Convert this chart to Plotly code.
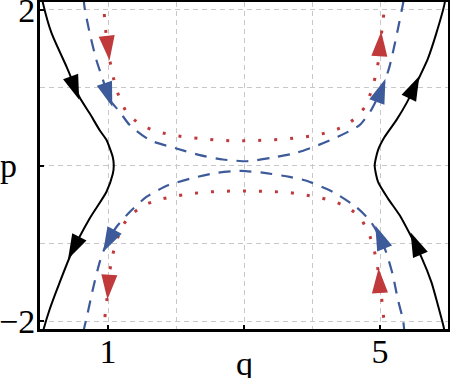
import plotly.graph_objects as go

# ---- axes / ticks ----
q_range = [0, 6]
p_range = [-2.1, 2.1]
x_tickvals = [1, 3, 5]
x_ticktext = ["1", "", "5"]
x_minor_grid = [2, 4]
y_tickvals = [-2, 0, 2]
y_ticktext = ["\u22122", "", "2"]
y_minor_grid = [-1, 1]
x_label = "q"
y_label = "p"

# ---- curves (q, p) ----
black_left_q = [0.03, 0.044, 0.17, 0.39, 0.58, 0.73, 0.88, 0.976, 1.07, 1.085, 1.07, 0.976, 0.73, 0.46, 0.29, 0.145, 0.054, 0.04]
black_left_p = [2.15, 2.085, 1.70, 1.27, 0.88, 0.67, 0.45, 0.33, 0.11, 0.0, -0.11, -0.34, -0.68, -1.13, -1.50, -1.84, -2.10, -2.15]

black_right_q = [5.96, 5.951, 5.829, 5.706, 5.535, 5.388, 5.241, 5.069, 4.971, 4.922, 4.971, 5.118, 5.29, 5.462, 5.609, 5.756, 5.853, 5.937, 5.95]
black_right_p = [2.15, 2.085, 1.70, 1.377, 1.055, 0.798, 0.583, 0.368, 0.197, 0.0, -0.211, -0.425, -0.64, -0.919, -1.176, -1.498, -1.798, -2.077, -2.15]

blue_top_q = [0.64, 0.657, 0.731, 0.829, 0.926, 1.025, 1.172, 1.319, 1.613, 2.006, 2.35, 2.69, 3.06, 3.40, 3.77, 4.09, 4.38, 4.70, 4.87, 5.04, 5.14, 5.24, 5.34, 5.35]
blue_top_p = [2.15, 2.02, 1.70, 1.355, 1.10, 0.844, 0.69, 0.519, 0.326, 0.219, 0.133, 0.077, 0.055, 0.098, 0.162, 0.261, 0.368, 0.519, 0.712, 1.01, 1.27, 1.655, 2.085, 2.15]

blue_bot_q = [0.64, 0.647, 0.682, 0.779, 0.878, 0.976, 1.124, 1.319, 1.565, 1.882, 2.25, 2.594, 2.96, 3.30, 3.67, 3.92, 4.31, 4.65, 4.85, 4.97, 5.09, 5.19, 5.26, 5.34, 5.36]
blue_bot_p = [-2.15, -2.10, -1.97, -1.583, -1.241, -1.004, -0.790, -0.597, -0.404, -0.254, -0.160, -0.095, -0.069, -0.095, -0.147, -0.195, -0.34, -0.533, -0.704, -0.875, -1.112, -1.412, -1.712, -1.99, -2.15]

red_top_q = [0.92, 0.937, 0.951, 0.976, 1.010, 1.05, 1.099, 1.172, 1.279, 1.456, 1.662, 1.897, 2.128, 2.35, 2.594, 2.829, 3.07, 3.30, 3.535, 3.77, 4.0, 4.235, 4.456, 4.643, 4.785, 4.874, 4.937, 4.981, 5.01, 5.035, 5.059, 5.07]
red_top_p = [2.15, 2.08, 1.87, 1.655, 1.42, 1.248, 1.055, 0.862, 0.677, 0.54, 0.454, 0.399, 0.368, 0.347, 0.326, 0.317, 0.317, 0.326, 0.335, 0.355, 0.381, 0.425, 0.497, 0.613, 0.763, 0.96, 1.162, 1.364, 1.613, 1.784, 1.977, 2.15]

red_bot_q = [0.94, 0.951, 0.976, 1.0, 1.025, 1.065, 1.124, 1.212, 1.359, 1.554, 1.771, 2.006, 2.235, 2.47, 2.70, 2.937, 3.172, 3.41, 3.647, 3.868, 4.113, 4.344, 4.554, 4.716, 4.834, 4.907, 4.956, 4.985, 5.02, 5.044, 5.069, 5.075]
red_bot_p = [-2.15, -1.98, -1.776, -1.605, -1.369, -1.163, -0.974, -0.777, -0.618, -0.502, -0.434, -0.391, -0.360, -0.340, -0.331, -0.327, -0.331, -0.335, -0.347, -0.373, -0.412, -0.468, -0.553, -0.682, -0.867, -1.06, -1.261, -1.434, -1.669, -1.871, -2.077, -2.15]

# ---- arrowheads: (tail, tip) pairs along each curve ----
black_arrow_q = [0.46, 0.576, 0.56, 0.413, 5.39, 5.579, 5.61, 5.449]
black_arrow_p = [1.12, 0.845, -0.95, -1.20, 0.80, 1.151, -1.18, -0.857]
blue_arrow_q = [0.93, 1.063, 1.09, 0.928, 4.93, 5.08, 5.07, 4.931]
blue_arrow_p = [1.10, 0.755, -0.84, -1.11, 0.76, 1.114, -1.07, -0.772]
red_arrow_q = [0.976, 1.022, 1.02, 0.992, 4.99, 5.018, 5.0, 4.979]
red_arrow_p = [1.70, 1.35, -1.40, -1.72, 1.40, 1.72, -1.65, -1.32]

BLACK = "#000000"
BLUE = "#3D5A9A"
RED = "#C0393B"
FONT = "Liberation Serif"

fig = go.Figure()

def curve(q, p, color, width, dash):
    fig.add_trace(go.Scatter(x=q, y=p, mode="lines",
                             line=dict(color=color, width=width, dash=dash, shape="spline", smoothing=0.6),
                             hoverinfo="skip", showlegend=False))

curve(black_left_q, black_left_p, BLACK, 2, "solid")
curve(black_right_q, black_right_p, BLACK, 2, "solid")
curve(blue_top_q, blue_top_p, BLUE, 2.2, "12px,9px")
curve(blue_bot_q, blue_bot_p, BLUE, 2.2, "12px,9px")
curve(red_top_q, red_top_p, RED, 3, "3px,13px")
curve(red_bot_q, red_bot_p, RED, 3, "3px,13px")

def arrows(q, p, color):
    n = len(q)
    fig.add_trace(go.Scatter(x=q, y=p, mode="markers",
                             marker=dict(symbol="arrow", angleref="previous", color=color,
                                         size=[0 if i % 2 == 0 else 26 for i in range(n)],
                                         opacity=[0 if i % 2 == 0 else 1 for i in range(n)],
                                         line=dict(width=0)),
                             hoverinfo="skip", showlegend=False))

arrows(black_arrow_q, black_arrow_p, BLACK)
arrows(blue_arrow_q, blue_arrow_p, BLUE)
arrows(red_arrow_q, red_arrow_p, RED)

grid = dict(gridcolor="#C8C8C8", gridwidth=1, griddash="5px,4px")

fig.update_xaxes(range=q_range, showline=True, mirror=True, linecolor="black", linewidth=3,
                 tickmode="array", tickvals=x_tickvals, ticktext=x_ticktext,
                 ticks="inside", ticklen=4, tickwidth=2, tickcolor="black",
                 ticklabeloverflow="allow", ticklabelstandoff=-10,
                 showgrid=True, zeroline=False, automargin=False,
                 minor=dict(tickmode="array", tickvals=x_minor_grid, ticklen=0, showgrid=True, **grid),
                 tickfont=dict(family=FONT, size=34, color="black"), **grid)
fig.update_yaxes(range=p_range, showline=True, mirror=True, linecolor="black", linewidth=3,
                 tickmode="array", tickvals=y_tickvals, ticktext=y_ticktext,
                 ticks="inside", ticklen=4, tickwidth=2, tickcolor="black",
                 ticklabeloverflow="allow", ticklabelstandoff=-5,
                 showgrid=True, zeroline=False, automargin=False,
                 minor=dict(tickmode="array", tickvals=y_minor_grid, ticklen=0, showgrid=True, **grid),
                 tickfont=dict(family=FONT, size=34, color="black"), **grid)

fig.add_annotation(text=x_label, xref="x", x=3, yref="paper", y=0, yanchor="top", yshift=-14,
                   showarrow=False, font=dict(family=FONT, size=34, color="black"))
fig.add_annotation(text=y_label, xref="paper", x=-0.076, xanchor="center", yref="y", y=0, yanchor="middle",
                   showarrow=False, font=dict(family=FONT, size=34, color="black"))

fig.update_layout(width=450, height=378, margin=dict(l=40, r=2, t=2, b=49),
                  paper_bgcolor="white", plot_bgcolor="white", template="none", showlegend=False)

fig.write_html("out.html", config={"displayModeBar": False},
               post_script="document.body.style.margin='0';document.body.style.overflow='hidden';")
